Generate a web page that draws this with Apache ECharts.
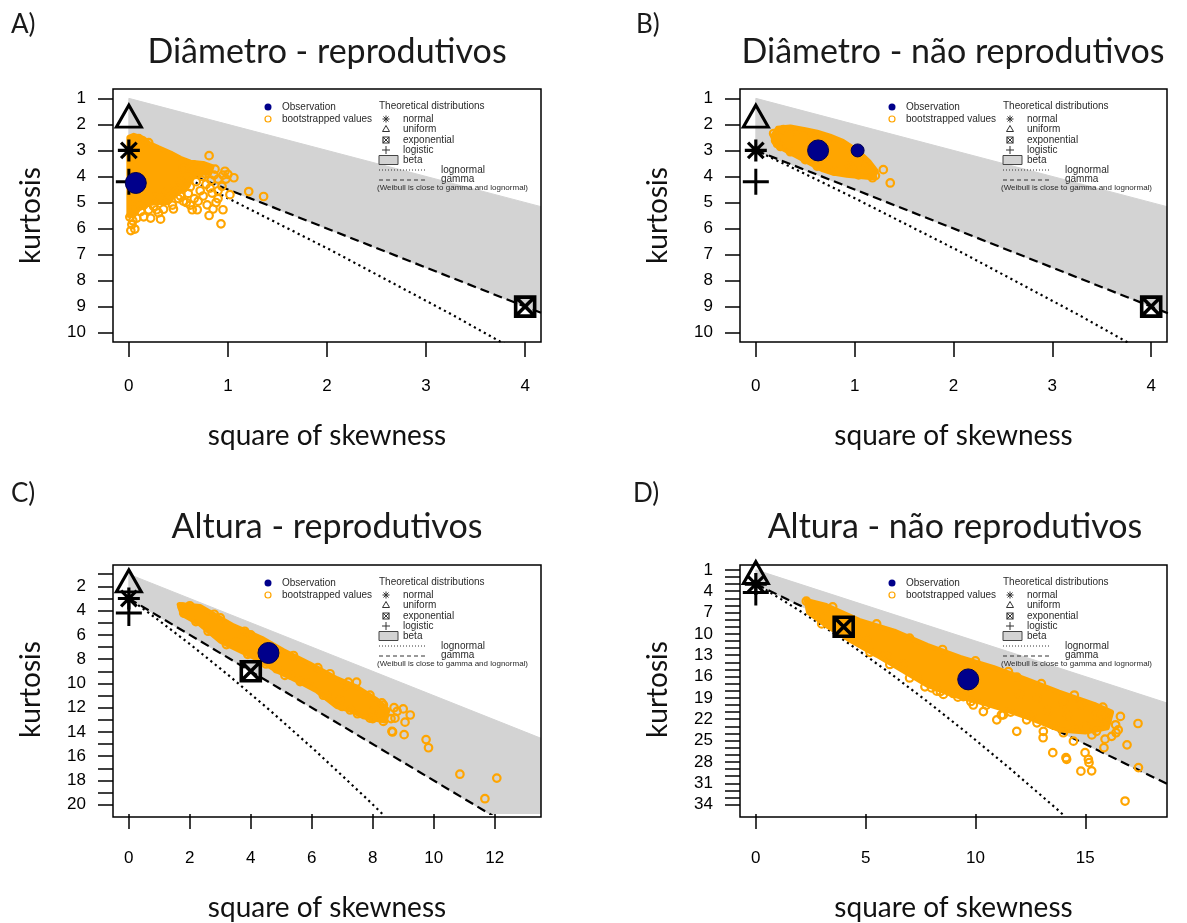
<!DOCTYPE html>
<html><head><meta charset="utf-8">
<script src="https://cdn.jsdelivr.net/npm/echarts@6.0.0/dist/echarts.min.js"></script>
<style>html,body{margin:0;padding:0;background:#fff;}#chart{width:1187px;height:923px;}</style>
</head><body><div id="chart"></div>
<script>
// ---------------- DATA ----------------
const panelTitles = ['Diâmetro - reprodutivos', 'Diâmetro - não reprodutivos', 'Altura - reprodutivos', 'Altura - não reprodutivos'];
const panelLetters = ['A)', 'B)', 'C)', 'D)'];
const xAxisTitle = 'square of skewness';
const yAxisTitle = 'kurtosis';

const xTicksAB = [0, 1, 2, 3, 4];
const xTicksC = [0, 2, 4, 6, 8, 10, 12];
const xTicksD = [0, 5, 10, 15];
const yTicksAB = [1, 2, 3, 4, 5, 6, 7, 8, 9, 10];
const yLabelsAB = [1, 2, 3, 4, 5, 6, 7, 8, 9, 10];
const yTicksC = [1, 2, 3, 4, 5, 6, 7, 8, 9, 10, 11, 12, 13, 14, 15, 16, 17, 18, 19, 20];
const yLabelsC = [2, 4, 6, 8, 10, 12, 14, 16, 18, 20];
const yTicksD = [1, 2, 3, 4, 5, 6, 7, 8, 9, 10, 11, 12, 13, 14, 15, 16, 17, 18, 19, 20, 21, 22, 23, 24, 25, 26, 27, 28, 29, 30, 31, 32, 33, 34];
const yLabelsD = [1, 4, 7, 10, 13, 16, 19, 22, 25, 28, 31, 34];

// theoretical limits (square of skewness, kurtosis)
const betaTop = [[0, 1], [20, 21]];
const gammaLine = [[0, 3], [20, 33]];
const lognormalLine = [[0, 3], [0.465, 3.84], [0.961, 4.76], [2.048, 6.85], [3.267, 9.32], [4.624, 12.21], [6.125, 15.56], [7.776, 19.43], [9.583, 23.85], [11.552, 28.88], [13.689, 34.58], [16, 41]];
const normalPt = [0, 3];
const uniformPt = [0, 1.8];
const exponentialPt = [4, 9];
const logisticPt = [0, 4.2];

// observations
const obsA = [[0.07, 4.25]];
const obsB = [[0.63, 3.0], [1.03, 3.0]];
const obsC = [[4.58, 7.49]];
const obsD = [[9.67, 16.4]];

// dense part of the bootstrap clouds (outline)
const bootCoreA = [[0, 2.5], [0.05, 2.42], [0.15, 2.55], [0.2, 2.72], [0.3, 2.9], [0.42, 3.1], [0.52, 3.3], [0.62, 3.45], [0.75, 3.5], [0.84, 3.62], [0.82, 3.86], [0.66, 3.9], [0.62, 4.15], [0.57, 4.5], [0.47, 4.65], [0.4, 5.0], [0.28, 5.0], [0.2, 5.05], [0.1, 5.25], [0.05, 5.5], [0, 5.5]];
const bootCoreB = [[0.17, 2.45], [0.22, 2.15], [0.35, 2.1], [0.5, 2.2], [0.62, 2.3], [0.75, 2.45], [0.88, 2.65], [1.0, 2.95], [1.08, 3.2], [1.15, 3.45], [1.22, 3.8], [1.18, 4.05], [1.05, 4.0], [0.92, 3.95], [0.78, 3.87], [0.68, 3.75], [0.58, 3.55], [0.48, 3.35], [0.38, 3.15], [0.28, 2.95], [0.2, 2.8]];
const bootCoreC = [[1.65, 3.5], [2.33, 3.65], [3.43, 5.25], [4.41, 6.35], [5.07, 7.3], [5.94, 8.4], [6.82, 9.6], [7.47, 10.3], [8.13, 11.35], [8.5, 12.2], [8.4, 13.1], [7.69, 12.75], [7.26, 12.2], [6.82, 11.9], [6.16, 10.6], [5.51, 9.75], [4.85, 8.95], [4.3, 8.1], [3.65, 7.3], [2.99, 6.5], [2.33, 5.1], [1.75, 4.3]];
const bootCoreD = [[2.3, 5.3], [3.2, 6.0], [4.7, 8.1], [6.3, 9.6], [7.8, 11.6], [9.3, 13.3], [10.8, 14.7], [12.3, 16.4], [13.8, 18.2], [15.4, 19.9], [16.2, 21.0], [16.0, 23.2], [15.0, 23.8], [13.85, 23.5], [12.6, 22.0], [11.4, 20.7], [10.2, 19.6], [9.0, 18.6], [7.8, 17.2], [6.6, 15.0], [5.5, 13.0], [4.4, 11.1], [3.2, 8.8], [2.4, 7.0]];

// individual bootstrapped values around the clouds
const bootRingsA = [[0.81, 3.2], [0.87, 3.72], [0.95, 3.95], [1.0, 3.92], [1.06, 4.05], [0.97, 3.8], [0.9, 4.1], [1.21, 4.58], [1.36, 4.77], [1.02, 4.7], [0.94, 4.38], [0.84, 4.64], [0.88, 5.0], [0.95, 5.28], [0.81, 5.5], [0.93, 5.82], [0.64, 5.28], [0.69, 5.28], [0.79, 5.09], [0.32, 5.64], [0.22, 5.6], [0.01, 5.56], [0.03, 5.85], [0.06, 6.02], [0.02, 6.08], [0.28, 5.28], [0.35, 5.26], [0.2, 5.28], [0.12, 5.35], [0.58, 5.0], [0.66, 4.85], [0.72, 4.55], [0.78, 4.3], [0.68, 4.2], [0.74, 4.0], [0.6, 4.65], [0.5, 4.85], [0.44, 5.1], [0.62, 4.4], [0.82, 4.45], [0.86, 3.95], [0.7, 3.9], [0.75, 4.75], [0.9, 4.85], [0.55, 4.95], [0.08, 5.6], [0.15, 5.1], [0.25, 5.15], [0.4, 4.7], [0.48, 4.55], [0.1, 2.55], [0.2, 2.7], [0.65, 3.55], [0.7, 3.62],
  [0.55, 3.7], [0.6, 3.95], [0.52, 4.2], [0.58, 4.3], [0.45, 4.45], [0.38, 4.6], [0.32, 4.85], [0.12, 5.0], [0.05, 5.2], [0.18, 4.9], [0.26, 4.8], [0.77, 3.9], [0.83, 4.15], [0.9, 4.55], [0.98, 4.1], [0.7, 4.95], [0.85, 5.25], [0.62, 5.1], [0.45, 5.25], [0.3, 5.4], [0.15, 5.55], [0.04, 5.7], [0.52, 4.75]];
const bootRingsB = [[1.29, 3.74], [1.36, 4.25], [1.21, 3.97], [1.04, 3.94], [1.16, 3.74], [1.12, 3.55], [0.2, 2.62], [0.18, 2.35], [0.28, 2.2], [0.4, 2.25], [0.55, 2.38], [0.72, 2.55], [0.88, 2.8], [0.95, 3.6], [0.8, 3.8], [0.62, 3.6], [0.5, 3.35], [0.35, 3.05], [0.25, 2.85], [1.18, 4.05], [0.98, 3.75]];
const bootRingsC = [[5.62, 9.85], [5.12, 9.34], [4.85, 8.79], [6.38, 10.97], [6.93, 11.38], [7.26, 12.19], [7.91, 12.86], [8.35, 13.13], [8.73, 12.86], [9.06, 13.19], [9.23, 12.6], [8.65, 14.0], [8.63, 13.95], [9.03, 14.22], [9.75, 14.63], [9.83, 15.3], [10.86, 17.48], [11.68, 19.5], [12.07, 17.8], [7.47, 9.9], [7.91, 10.97], [8.35, 11.78], [8.8, 12.3], [2.0, 3.6], [1.75, 3.7], [3.0, 4.6], [3.5, 6.6], [4.1, 7.5], [4.0, 6.0], [6.6, 9.2], [7.1, 10.2], [8.6, 12.9], [8.0, 12.3],
  [2.6, 5.7], [3.2, 6.8], [3.9, 7.6], [4.5, 8.4], [5.3, 9.3], [5.9, 10.0], [6.5, 11.0], [7.0, 11.9], [7.5, 12.5], [8.0, 12.9], [2.2, 4.9], [1.8, 4.2], [2.8, 4.3], [3.8, 5.7], [5.4, 7.7], [6.2, 8.7], [7.2, 9.9], [8.3, 11.6], [8.7, 12.0], [9.0, 12.1]];
const bootRingsD = [[7.70, 17.45], [8.24, 18.05], [8.54, 18.51], [7.33, 15.83], [6.72, 14.21], [5.8, 12.82], [5.05, 10.74], [4.6, 10.7], [8.99, 18.38], [9.45, 18.83], [9.9, 20.0], [10.36, 20.92], [10.97, 22.08], [11.88, 23.7], [11.27, 21.39], [12.33, 22.08], [13.09, 23.7], [13.54, 22.78], [14.0, 19.76], [14.76, 20.0], [14.15, 27.64], [14.46, 25.08], [14.99, 26.7], [15.14, 27.64], [15.29, 29.25], [11.88, 16.06], [16.81, 33.5], [17.42, 28.8], [16.9, 25.6], [16.2, 24.4], [16.38, 22.78], [15.5, 21.4], [14.81, 20.0], [14.12, 27.4], [15.17, 28.1], [14.8, 29.3], [15.85, 26.0], [14.03, 19.76], [14.47, 23.24], [13.6, 22.8], [13.08, 24.6], [12.56, 21.4], [11.18, 21.4], [9.79, 19.5], [8.4, 18.1], [13.52, 26.7], [15.51, 23.7], [15.9, 24.8], [16.5, 23.5], [15.0, 23.0], [14.2, 21.5], [16.0, 22.0], [2.3, 5.4], [3.0, 6.8], [4.2, 9.6], [6.0, 13.2], [12.8, 19.0], [12.0, 18.5], [13.3, 20.8], [15.7, 21.8],
  [3.0, 8.6], [3.8, 9.9], [5.2, 12.6], [6.1, 14.3], [7.0, 16.2], [8.0, 17.6], [9.2, 18.9], [10.5, 20.0], [11.6, 21.0], [12.8, 22.5], [14.0, 23.9], [15.3, 24.2], [16.4, 23.9], [3.5, 6.2], [5.5, 8.6], [7.0, 10.6], [8.5, 12.2], [10.0, 13.8], [11.5, 15.3], [13.0, 17.0], [14.5, 18.6], [15.8, 20.3], [16.6, 21.6], [17.4, 22.6]];

// ---------------- LAYOUT ----------------
const panels = [
  { grid: { left: 113, top: 89, width: 428, height: 253 }, x: [-0.16, 4.16], y: [0.64, 10.36], xt: xTicksAB, yt: yTicksAB, yl: yLabelsAB, core: bootCoreA, rings: bootRingsA, obs: obsA, title: [327, 52], letter: [11, 25], legend: [267, 89] },
  { grid: { left: 740, top: 89, width: 427, height: 253 }, x: [-0.16, 4.16], y: [0.64, 10.36], xt: xTicksAB, yt: yTicksAB, yl: yLabelsAB, core: bootCoreB, rings: bootRingsB, obs: obsB, title: [953, 52], letter: [636, 25], legend: [891, 89] },
  { grid: { left: 113, top: 565, width: 428, height: 252 }, x: [-0.52, 13.52], y: [0.24, 20.76], xt: xTicksC, yt: yTicksC, yl: yLabelsC, core: bootCoreC, rings: bootRingsC, obs: obsC, title: [327, 527], letter: [11, 494], legend: [267, 565] },
  { grid: { left: 740, top: 565, width: 427, height: 252 }, x: [-0.72, 18.72], y: [0.32, 35.32], xt: xTicksD, yt: yTicksD, yl: yLabelsD, core: bootCoreD, rings: bootRingsD, obs: obsD, title: [955, 527], letter: [633, 494], legend: [891, 565] }
];

const TICKFONT = 'Liberation Sans';
const TITLEFONT = 'Lato';
const symStar = 'path://M12,0L12,24M0,12L24,12M3.5,3.5L20.5,20.5M20.5,3.5L3.5,20.5';
const symTri = 'path://M12,0L24,21L0,21Z';
const symPlus = 'path://M12,0L12,24M0,12L24,12';
const symExp = 'path://M0,0L20,0L20,20L0,20ZM0,0L20,20M20,0L0,20';

function polySeries(i, pts, style, z) {
  return {
    type: 'custom', xAxisIndex: i, yAxisIndex: i, silent: true, z: z, clip: true,
    data: pts,
    renderItem: function (params, api) {
      if (params.dataIndex !== 0) return null;
      const cs = params.coordSys;
      return {
        type: 'polygon',
        shape: { points: pts.map(function (q) { return api.coord(q); }) },
        style: style,
        clipPath: { type: 'rect', shape: { x: cs.x, y: cs.y, width: cs.width, height: cs.height } }
      };
    }
  };
}

const grids = [], xAxes = [], yAxes = [], series = [], graphics = [];
panels.forEach(function (p, i) {
  grids.push(Object.assign({ containLabel: false, show: false }, p.grid));
  xAxes.push({
    type: 'value', gridIndex: i, min: p.x[0], max: p.x[1], position: 'bottom',
    name: xAxisTitle, nameLocation: 'middle', nameGap: 80,
    nameTextStyle: { fontFamily: TITLEFONT, fontSize: 28, color: '#111' },
    axisLine: { show: false, onZero: false },
    axisTick: { show: true, inside: false, length: 15, customValues: p.xt, lineStyle: { color: '#000', width: 1.5 } },
    axisLabel: { show: true, customValues: p.xt, margin: 36, fontFamily: TICKFONT, fontSize: 17, color: '#000' },
    splitLine: { show: false }
  });
  yAxes.push({
    type: 'value', gridIndex: i, min: p.y[0], max: p.y[1], inverse: true, position: 'left',
    name: yAxisTitle, nameLocation: 'middle', nameGap: 68, nameRotate: 90,
    nameTextStyle: { fontFamily: TITLEFONT, fontSize: 28, color: '#111' },
    axisLine: { show: false, onZero: false },
    axisTick: { show: true, inside: false, length: 15, customValues: p.yt, lineStyle: { color: '#000', width: 1.5 } },
    axisLabel: { show: true, customValues: p.yl, margin: 27, fontFamily: TICKFONT, fontSize: 17, color: '#000' },
    splitLine: { show: false }
  });
  const ax = { xAxisIndex: i, yAxisIndex: i };
  // beta region
  series.push(polySeries(i, betaTop.concat(gammaLine.slice().reverse()), { fill: '#D3D3D3', stroke: '#D3D3D3', lineWidth: 1 }, 1));
  // gamma and lognormal
  series.push(Object.assign({ type: 'line', data: gammaLine, symbol: 'none', silent: true, z: 3, clip: true,
    lineStyle: { color: '#000', width: 2.2, type: [9, 5] } }, ax));
  series.push(Object.assign({ type: 'line', data: lognormalLine, symbol: 'none', silent: true, z: 3, clip: true,
    lineStyle: { color: '#000', width: 2.2, type: [2.2, 3.5] } }, ax));
  // bootstrapped values
  series.push(polySeries(i, p.core, { fill: '#FFA500', stroke: '#FFA500', lineWidth: 5, lineJoin: 'round' }, 4));
  series.push(Object.assign({ type: 'scatter', data: p.rings, symbol: 'circle', symbolSize: 7.5, silent: true, z: 5,
    itemStyle: { color: 'rgba(255,255,255,0)', borderColor: '#FFA500', borderWidth: 2.2, opacity: 1 } }, ax));
  // theoretical distributions
  const mk = function (pt, sym, size, off, bw) {
    return Object.assign({ type: 'scatter', data: [pt], symbol: sym, symbolSize: size, symbolOffset: off || [0, 0], silent: true, z: 6, clip: false,
      itemStyle: { color: 'rgba(0,0,0,0)', borderColor: '#000', borderWidth: bw || 3, opacity: 1 } }, ax);
  };
  series.push(mk(normalPt, symStar, 22, null, 3.2));
  series.push(mk(uniformPt, symTri, [25, 22], [0, -3], 3));
  series.push(mk(exponentialPt, symExp, 19, null, 3.6));
  series.push(mk(logisticPt, symPlus, 26, null, 3));
  // observation
  series.push(Object.assign({ type: 'scatter', data: p.obs, symbol: 'circle', silent: true, z: 7, clip: false,
    symbolSize: function (v, params) { return params.dataIndex === 0 ? 21 : 13; },
    itemStyle: { color: '#00008B', borderColor: '#000050', borderWidth: 1, opacity: 1 } }, ax));

  // frame
  graphics.push({ type: 'rect', z: 100, silent: true, shape: { x: p.grid.left, y: p.grid.top, width: p.grid.width, height: p.grid.height },
    style: { fill: 'none', stroke: '#000', lineWidth: 1.5 } });
  // titles and letters
  graphics.push({ type: 'text', z: 100, x: p.title[0], y: p.title[1], silent: true,
    style: { text: panelTitles[i], fill: '#1a1a1a', fontSize: 34, fontFamily: TITLEFONT, align: 'center', verticalAlign: 'middle' } });
  graphics.push({ type: 'text', z: 100, x: p.letter[0], y: p.letter[1], silent: true,
    style: { text: panelLetters[i], fill: '#1a1a1a', fontSize: 26, fontFamily: TITLEFONT, align: 'left', verticalAlign: 'middle' } });
  // legend
  const x0 = p.legend[0], y0 = p.legend[1];
  const txt = function (x, y, s, size) {
    return { type: 'text', z: 100, x: x0 + x, y: y0 + y, silent: true,
      style: { text: s, fill: '#2a2a2a', fontSize: size || 10, fontFamily: TICKFONT, align: 'left', verticalAlign: 'middle' } };
  };
  const ln = function (x1, y1, x2, y2, w, dash) {
    return { type: 'line', z: 100, silent: true, shape: { x1: x0 + x1, y1: y0 + y1, x2: x0 + x2, y2: y0 + y2 },
      style: { stroke: '#333', lineWidth: w || 1, lineDash: dash || null } };
  };
  graphics.push({ type: 'circle', z: 100, silent: true, shape: { cx: x0 + 1, cy: y0 + 18, r: 3.5 }, style: { fill: '#00008B' } });
  graphics.push(txt(15, 18, 'Observation'));
  graphics.push({ type: 'circle', z: 100, silent: true, shape: { cx: x0 + 1, cy: y0 + 30, r: 3 }, style: { fill: 'none', stroke: '#FFA500', lineWidth: 1.2 } });
  graphics.push(txt(15, 30, 'bootstrapped values'));
  graphics.push(txt(112, 17, 'Theoretical distributions'));
  // normal (star)
  graphics.push(ln(115.5, 30, 122.5, 30)); graphics.push(ln(119, 26.5, 119, 33.5));
  graphics.push(ln(116.5, 27.5, 121.5, 32.5)); graphics.push(ln(121.5, 27.5, 116.5, 32.5));
  graphics.push(txt(136, 30, 'normal'));
  // uniform (triangle)
  graphics.push({ type: 'polygon', z: 100, silent: true, shape: { points: [[x0 + 119, y0 + 36.5], [x0 + 122.5, y0 + 42.5], [x0 + 115.5, y0 + 42.5]] }, style: { fill: 'none', stroke: '#333', lineWidth: 1 } });
  graphics.push(txt(136, 40, 'uniform'));
  // exponential
  graphics.push({ type: 'rect', z: 100, silent: true, shape: { x: x0 + 116, y: y0 + 48, width: 6, height: 6 }, style: { fill: 'none', stroke: '#333', lineWidth: 1.2 } });
  graphics.push(ln(116, 48, 122, 54)); graphics.push(ln(122, 48, 116, 54));
  graphics.push(txt(136, 51, 'exponential'));
  // logistic
  graphics.push(ln(115, 61, 123, 61)); graphics.push(ln(119, 57, 119, 65));
  graphics.push(txt(136, 61, 'logistic'));
  // beta
  graphics.push({ type: 'rect', z: 100, silent: true, shape: { x: x0 + 112, y: y0 + 66.5, width: 19, height: 9 }, style: { fill: '#D3D3D3', stroke: '#444', lineWidth: 1 } });
  graphics.push(txt(136, 71, 'beta'));
  // lognormal / gamma
  graphics.push(ln(112, 81, 158, 81, 1, [1, 2]));
  graphics.push(txt(174, 81, 'lognormal'));
  graphics.push(ln(112, 91, 158, 91, 1, [4, 3]));
  graphics.push(txt(174, 90, 'gamma'));
  graphics.push(txt(110, 99, '(Weibull is close to gamma and lognormal)', 8));
});

const chart = echarts.init(document.getElementById('chart'), null, { renderer: 'canvas' });
chart.setOption({
  animation: false,
  backgroundColor: '#ffffff',
  grid: grids,
  xAxis: xAxes,
  yAxis: yAxes,
  series: series,
  graphic: { elements: graphics }
});
</script>
</body></html>
